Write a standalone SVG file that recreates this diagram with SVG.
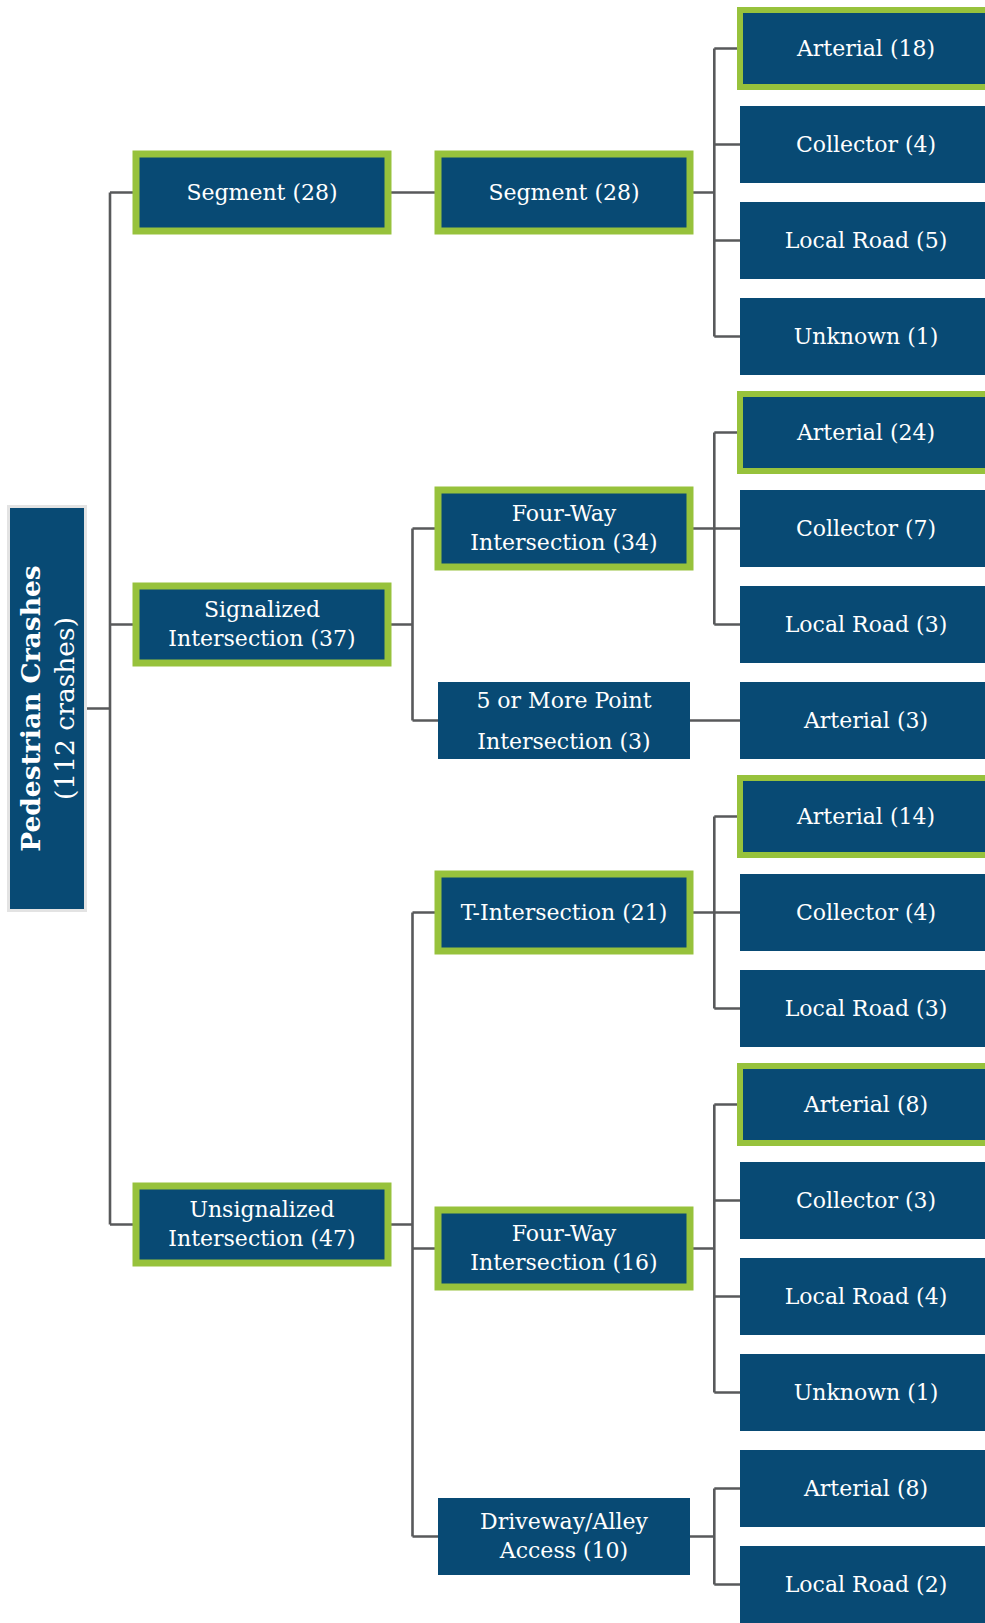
<svg xmlns="http://www.w3.org/2000/svg" width="985" height="1623" viewBox="0 0 985 1623">
<style>
.b{fill:#084a74}
.g{stroke:#97c23c;stroke-width:7}
.gl{stroke:#97c23c;stroke-width:6}
.t{font-family:"DejaVu Serif","Liberation Serif",serif;font-size:22px;fill:#fff;text-anchor:middle}
.c{fill:none;stroke:#58595b;stroke-width:2.6}
</style>
<rect width="985" height="1623" fill="#fff"/>
<g id="connectors" class="c">
<path d="M85.5 708.5H110M110 192.5V1224.5M110 192.5H136M110 624.5H136M110 1224.5H136"/>
<path d="M388 192.5H438"/>
<path d="M388 624.5H412.5M412.5 528.5V720.5M412.5 528.5H438M412.5 720.5H438"/>
<path d="M388 1224.5H412.5M412.5 912.5V1536.5M412.5 912.5H438M412.5 1248.5H438M412.5 1536.5H438"/>
<path d="M690 192.5H714.3M714.3 48.5V336.5M714.3 48.5H740M714.3 144.5H740M714.3 240.5H740M714.3 336.5H740"/>
<path d="M690 528.5H714.3M714.3 432.5V624.5M714.3 432.5H740M714.3 528.5H740M714.3 624.5H740"/>
<path d="M690 720.5H740"/>
<path d="M690 912.5H714.3M714.3 816.5V1008.5M714.3 816.5H740M714.3 912.5H740M714.3 1008.5H740"/>
<path d="M690 1248.5H714.3M714.3 1104.5V1392.5M714.3 1104.5H740M714.3 1200.5H740M714.3 1296.5H740M714.3 1392.5H740"/>
<path d="M690 1536.5H714.3M714.3 1488.5V1584.5M714.3 1488.5H740M714.3 1584.5H740"/>
</g>
<g id="root">
<rect x="8.5" y="506.5" width="77" height="404" class="b" stroke="#e3e3e3" stroke-width="3"/>
<text class="t" transform="translate(40 708.5) rotate(-90)" style="font-size:26.5px;font-weight:bold">Pedestrian Crashes</text>
<text class="t" transform="translate(73.5 708.5) rotate(-90)" style="font-size:26.5px">(112 crashes)</text>
</g>
<g id="l1-segment"><rect x="136" y="154" width="252" height="77" class="b g"/><text class="t" x="262" y="199.5">Segment (28)</text></g>
<g id="l1-signalized"><rect x="136" y="586" width="252" height="77" class="b g"/><text class="t" x="262" y="616.5">Signalized</text><text class="t" x="262" y="645.5">Intersection (37)</text></g>
<g id="l1-unsignalized"><rect x="136" y="1186" width="252" height="77" class="b g"/><text class="t" x="262" y="1216.5">Unsignalized</text><text class="t" x="262" y="1245.5">Intersection (47)</text></g>
<g id="l2-segment"><rect x="438" y="154" width="252" height="77" class="b g"/><text class="t" x="564" y="199.5">Segment (28)</text></g>
<g id="l2-fourway-sig"><rect x="438" y="490" width="252" height="77" class="b g"/><text class="t" x="564" y="520.5">Four-Way</text><text class="t" x="564" y="549.5">Intersection (34)</text></g>
<g id="l2-fivepoint"><rect x="438" y="682" width="252" height="77" class="b"/><text class="t" x="564" y="707.5">5 or More Point</text><text class="t" x="564" y="749">Intersection (3)</text></g>
<g id="l2-t"><rect x="438" y="874" width="252" height="77" class="b g"/><text class="t" x="564" y="919.5">T-Intersection (21)</text></g>
<g id="l2-fourway-unsig"><rect x="438" y="1210" width="252" height="77" class="b g"/><text class="t" x="564" y="1240.5">Four-Way</text><text class="t" x="564" y="1269.5">Intersection (16)</text></g>
<g id="l2-driveway"><rect x="438" y="1498" width="252" height="77" class="b"/><text class="t" x="564" y="1528.5">Driveway/Alley</text><text class="t" x="564" y="1557.5">Access (10)</text></g>
<g id="leaf-1"><rect x="740" y="10" width="252" height="77" class="b gl"/><text class="t" x="866" y="55.5">Arterial (18)</text></g>
<g id="leaf-2"><rect x="740" y="106" width="252" height="77" class="b"/><text class="t" x="866" y="151.5">Collector (4)</text></g>
<g id="leaf-3"><rect x="740" y="202" width="252" height="77" class="b"/><text class="t" x="866" y="247.5">Local Road (5)</text></g>
<g id="leaf-4"><rect x="740" y="298" width="252" height="77" class="b"/><text class="t" x="866" y="343.5">Unknown (1)</text></g>
<g id="leaf-5"><rect x="740" y="394" width="252" height="77" class="b gl"/><text class="t" x="866" y="439.5">Arterial (24)</text></g>
<g id="leaf-6"><rect x="740" y="490" width="252" height="77" class="b"/><text class="t" x="866" y="535.5">Collector (7)</text></g>
<g id="leaf-7"><rect x="740" y="586" width="252" height="77" class="b"/><text class="t" x="866" y="631.5">Local Road (3)</text></g>
<g id="leaf-8"><rect x="740" y="682" width="252" height="77" class="b"/><text class="t" x="866" y="727.5">Arterial (3)</text></g>
<g id="leaf-9"><rect x="740" y="778" width="252" height="77" class="b gl"/><text class="t" x="866" y="823.5">Arterial (14)</text></g>
<g id="leaf-10"><rect x="740" y="874" width="252" height="77" class="b"/><text class="t" x="866" y="919.5">Collector (4)</text></g>
<g id="leaf-11"><rect x="740" y="970" width="252" height="77" class="b"/><text class="t" x="866" y="1015.5">Local Road (3)</text></g>
<g id="leaf-12"><rect x="740" y="1066" width="252" height="77" class="b gl"/><text class="t" x="866" y="1111.5">Arterial (8)</text></g>
<g id="leaf-13"><rect x="740" y="1162" width="252" height="77" class="b"/><text class="t" x="866" y="1207.5">Collector (3)</text></g>
<g id="leaf-14"><rect x="740" y="1258" width="252" height="77" class="b"/><text class="t" x="866" y="1303.5">Local Road (4)</text></g>
<g id="leaf-15"><rect x="740" y="1354" width="252" height="77" class="b"/><text class="t" x="866" y="1399.5">Unknown (1)</text></g>
<g id="leaf-16"><rect x="740" y="1450" width="252" height="77" class="b"/><text class="t" x="866" y="1495.5">Arterial (8)</text></g>
<g id="leaf-17"><rect x="740" y="1546" width="252" height="77" class="b"/><text class="t" x="866" y="1591.5">Local Road (2)</text></g>
</svg>
